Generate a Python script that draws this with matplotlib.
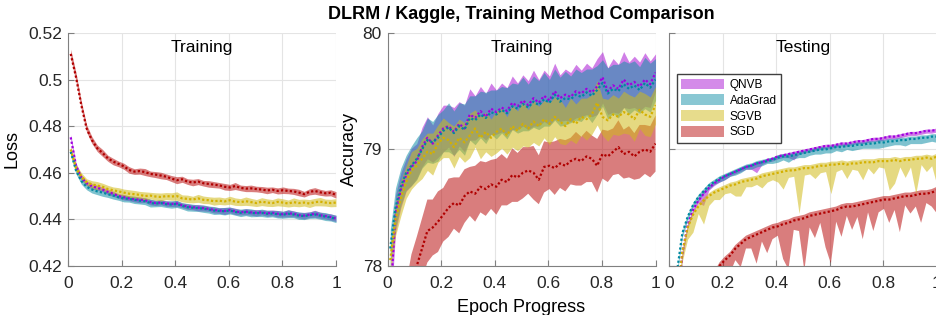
import numpy as np
import matplotlib
matplotlib.use('Agg')
import matplotlib.pyplot as plt
from matplotlib.patches import Patch

plt.rcParams['font.family'] = ['Liberation Sans', 'DejaVu Sans']

# epoch progress grid (51 samples)
x = np.linspace(0.01, 1.0, 51)

methods = ['QNVB', 'AdaGrad', 'SGVB', 'SGD']
fill_colors = ['#AA16D4', '#1491A8', '#D1BA1A', '#BA1212']
line_colors = ['#A000E0', '#0088A0', '#D4B000', '#B00000']

# ---- training loss (mean and half width of band) ----
loss_qnvb = [0.4752, 0.4630, 0.4580, 0.4555, 0.4542, 0.4536, 0.4528, 0.4518, 0.4510, 0.4500,
             0.4495, 0.4490, 0.4486, 0.4484, 0.4482, 0.4474, 0.4470, 0.4472, 0.4468, 0.4466,
             0.4468, 0.4460, 0.4455, 0.4452, 0.4450, 0.4448, 0.4445, 0.4440, 0.4438, 0.4436,
             0.4440, 0.4434, 0.4430, 0.4433, 0.4430, 0.4428, 0.4430, 0.4426, 0.4428, 0.4424,
             0.4422, 0.4426, 0.4424, 0.4418, 0.4416, 0.4420, 0.4424, 0.4418, 0.4414, 0.4410, 0.4404]
loss_adagrad = [0.4690, 0.4610, 0.4565, 0.4540, 0.4528, 0.4520, 0.4515, 0.4508, 0.4502, 0.4495,
                0.4490, 0.4488, 0.4484, 0.4480, 0.4478, 0.4470, 0.4468, 0.4470, 0.4465, 0.4464,
                0.4466, 0.4458, 0.4452, 0.4450, 0.4448, 0.4446, 0.4442, 0.4438, 0.4436, 0.4435,
                0.4438, 0.4432, 0.4428, 0.4431, 0.4428, 0.4426, 0.4428, 0.4424, 0.4425, 0.4422,
                0.4420, 0.4424, 0.4421, 0.4416, 0.4414, 0.4418, 0.4421, 0.4416, 0.4412, 0.4408, 0.4402]
loss_sgvb = [0.4700, 0.4620, 0.4585, 0.4560, 0.4550, 0.4545, 0.4540, 0.4530, 0.4525, 0.4520,
             0.4515, 0.4510, 0.4508, 0.4505, 0.4500, 0.4502, 0.4498, 0.4496, 0.4500, 0.4498,
             0.4500, 0.4490, 0.4488, 0.4485, 0.4490, 0.4484, 0.4482, 0.4478, 0.4480, 0.4477,
             0.4482, 0.4476, 0.4474, 0.4478, 0.4474, 0.4470, 0.4476, 0.4472, 0.4470, 0.4475,
             0.4472, 0.4468, 0.4474, 0.4470, 0.4472, 0.4468, 0.4474, 0.4476, 0.4472, 0.4470, 0.4472]
loss_sgd = [0.5110, 0.5010, 0.4890, 0.4790, 0.4740, 0.4705, 0.4685, 0.4662, 0.4648, 0.4638,
            0.4628, 0.4612, 0.4605, 0.4607, 0.4603, 0.4595, 0.4592, 0.4588, 0.4583, 0.4575,
            0.4568, 0.4572, 0.4562, 0.4558, 0.4562, 0.4555, 0.4552, 0.4549, 0.4546, 0.4540,
            0.4537, 0.4543, 0.4535, 0.4532, 0.4533, 0.4530, 0.4528, 0.4524, 0.4527, 0.4522,
            0.4525, 0.4522, 0.4520, 0.4515, 0.4508, 0.4518, 0.4522, 0.4516, 0.4512, 0.4514, 0.4505]

loss_qnvb_w = [0.0012, 0.0012, 0.0011, 0.0010, 0.0012, 0.0011, 0.0010, 0.0012, 0.0011, 0.0010,
               0.0012, 0.0010, 0.0011, 0.0013, 0.0010, 0.0012, 0.0011, 0.0010, 0.0012, 0.0011,
               0.0013, 0.0010, 0.0012, 0.0011, 0.0014, 0.0012, 0.0011, 0.0013, 0.0012, 0.0015,
               0.0012, 0.0014, 0.0011, 0.0013, 0.0012, 0.0014, 0.0011, 0.0013, 0.0012, 0.0014,
               0.0012, 0.0015, 0.0013, 0.0012, 0.0014, 0.0012, 0.0015, 0.0013, 0.0012, 0.0014, 0.0013]
loss_adagrad_w = [0.0014, 0.0015, 0.0014, 0.0013, 0.0015, 0.0014, 0.0016, 0.0014, 0.0015, 0.0013,
                  0.0015, 0.0014, 0.0016, 0.0014, 0.0015, 0.0017, 0.0014, 0.0015, 0.0014, 0.0016,
                  0.0015, 0.0014, 0.0016, 0.0015, 0.0014, 0.0016, 0.0015, 0.0017, 0.0014, 0.0016,
                  0.0015, 0.0014, 0.0016, 0.0015, 0.0017, 0.0014, 0.0016, 0.0015, 0.0014, 0.0016,
                  0.0015, 0.0017, 0.0014, 0.0016, 0.0015, 0.0014, 0.0016, 0.0015, 0.0017, 0.0015, 0.0016]
loss_sgvb_w = [0.0015, 0.0016, 0.0015, 0.0014, 0.0016, 0.0017, 0.0015, 0.0016, 0.0014, 0.0016,
               0.0015, 0.0017, 0.0016, 0.0015, 0.0018, 0.0014, 0.0016, 0.0017, 0.0015, 0.0016,
               0.0018, 0.0015, 0.0016, 0.0014, 0.0017, 0.0016, 0.0015, 0.0017, 0.0016, 0.0015,
               0.0017, 0.0016, 0.0015, 0.0018, 0.0016, 0.0015, 0.0017, 0.0016, 0.0015, 0.0017,
               0.0016, 0.0015, 0.0018, 0.0016, 0.0015, 0.0017, 0.0016, 0.0018, 0.0015, 0.0016, 0.0017]
loss_sgd_w = [0.0020, 0.0019, 0.0017, 0.0016, 0.0015, 0.0014, 0.0015, 0.0013, 0.0014, 0.0012,
              0.0013, 0.0014, 0.0012, 0.0013, 0.0015, 0.0012, 0.0013, 0.0014, 0.0012, 0.0013,
              0.0015, 0.0013, 0.0012, 0.0014, 0.0013, 0.0012, 0.0014, 0.0013, 0.0012, 0.0014,
              0.0013, 0.0015, 0.0012, 0.0013, 0.0014, 0.0012, 0.0013, 0.0014, 0.0012, 0.0013,
              0.0014, 0.0012, 0.0013, 0.0014, 0.0012, 0.0013, 0.0014, 0.0013, 0.0012, 0.0013, 0.0014]

# ---- training accuracy (mean and half width of band) ----
acc_tr_qnvb = [77.70, 78.45, 78.65, 78.78, 78.85, 78.90, 79.02, 79.10, 79.05, 79.12,
               79.18, 79.20, 79.15, 79.22, 79.18, 79.30, 79.27, 79.33, 79.28, 79.35,
               79.32, 79.36, 79.33, 79.40, 79.37, 79.42, 79.38, 79.44, 79.40, 79.46,
               79.42, 79.50, 79.44, 79.47, 79.45, 79.50, 79.48, 79.52, 79.49, 79.54,
               79.62, 79.50, 79.55, 79.52, 79.60, 79.55, 79.58, 79.54, 79.60, 79.56, 79.66]
acc_tr_adagrad = [78.15, 78.50, 78.68, 78.80, 78.86, 78.92, 79.00, 79.08, 79.06, 79.10,
                  79.16, 79.19, 79.14, 79.20, 79.17, 79.27, 79.25, 79.30, 79.27, 79.32,
                  79.30, 79.34, 79.31, 79.37, 79.35, 79.39, 79.36, 79.41, 79.38, 79.43,
                  79.40, 79.47, 79.41, 79.44, 79.43, 79.47, 79.45, 79.49, 79.46, 79.51,
                  79.57, 79.48, 79.52, 79.50, 79.56, 79.52, 79.55, 79.51, 79.57, 79.53, 79.60]
acc_tr_sgvb = [78.05, 78.40, 78.58, 78.72, 78.82, 78.86, 78.92, 78.98, 78.96, 79.05,
               79.10, 79.08, 79.02, 79.10, 79.06, 79.12, 79.18, 79.10, 79.15, 79.10,
               79.15, 79.18, 79.12, 79.20, 79.16, 79.22, 79.18, 79.24, 79.20, 79.26,
               79.22, 79.28, 79.24, 79.20, 79.26, 79.22, 79.28, 79.26, 79.30, 79.40,
               79.28, 79.25, 79.30, 79.28, 79.32, 79.30, 79.26, 79.34, 79.30, 79.28, 79.38]
acc_tr_sgd = [76.80, 77.10, 77.40, 77.60, 77.85, 78.00, 78.15, 78.30, 78.33, 78.38,
              78.44, 78.50, 78.54, 78.52, 78.60, 78.64, 78.62, 78.68, 78.66, 78.70,
              78.68, 78.74, 78.72, 78.78, 78.76, 78.80, 78.82, 78.80, 78.74, 78.85,
              78.86, 78.84, 78.88, 78.86, 78.90, 78.92, 78.90, 78.94, 78.92, 78.86,
              78.96, 78.94, 78.98, 79.02, 78.96, 78.98, 78.94, 78.98, 79.00, 78.98, 79.05]

acc_tr_qnvb_w = [0.15, 0.16, 0.15, 0.14, 0.16, 0.15, 0.17, 0.18, 0.16, 0.19,
                 0.20, 0.18, 0.21, 0.19, 0.20, 0.22, 0.19, 0.21, 0.20, 0.22,
                 0.19, 0.21, 0.20, 0.23, 0.20, 0.22, 0.21, 0.24, 0.20, 0.22,
                 0.21, 0.24, 0.20, 0.22, 0.21, 0.23, 0.20, 0.22, 0.21, 0.24,
                 0.22, 0.20, 0.23, 0.21, 0.24, 0.20, 0.22, 0.21, 0.23, 0.20, 0.16]
acc_tr_adagrad_w = [0.16, 0.17, 0.16, 0.15, 0.17, 0.18, 0.16, 0.19, 0.18, 0.20,
                    0.18, 0.21, 0.19, 0.20, 0.22, 0.19, 0.21, 0.20, 0.22, 0.19,
                    0.21, 0.20, 0.22, 0.20, 0.21, 0.23, 0.20, 0.22, 0.21, 0.23,
                    0.20, 0.22, 0.21, 0.23, 0.20, 0.22, 0.21, 0.20, 0.23, 0.21,
                    0.20, 0.22, 0.21, 0.23, 0.20, 0.22, 0.21, 0.20, 0.22, 0.21, 0.18]
acc_tr_sgvb_w = [0.12, 0.14, 0.15, 0.14, 0.16, 0.15, 0.17, 0.16, 0.18, 0.16,
                 0.17, 0.15, 0.18, 0.16, 0.17, 0.19, 0.16, 0.18, 0.17, 0.16,
                 0.18, 0.17, 0.16, 0.18, 0.17, 0.19, 0.16, 0.18, 0.17, 0.16,
                 0.18, 0.17, 0.19, 0.16, 0.18, 0.17, 0.16, 0.18, 0.17, 0.19,
                 0.16, 0.18, 0.17, 0.16, 0.18, 0.17, 0.19, 0.16, 0.18, 0.17, 0.16]
acc_tr_sgd_w = [0.25, 0.25, 0.25, 0.25, 0.25, 0.25, 0.26, 0.27, 0.24, 0.26,
                0.23, 0.25, 0.22, 0.24, 0.23, 0.21, 0.24, 0.22, 0.23, 0.21,
                0.24, 0.22, 0.20, 0.23, 0.21, 0.22, 0.20, 0.23, 0.21, 0.22,
                0.20, 0.23, 0.21, 0.22, 0.20, 0.23, 0.21, 0.22, 0.20, 0.23,
                0.21, 0.22, 0.20, 0.23, 0.21, 0.22, 0.20, 0.23, 0.21, 0.22, 0.24]

# ---- testing accuracy (mean, lower offset, constant upper offset) ----
acc_te_qnvb = [77.00, 77.60, 78.11, 78.35, 78.48, 78.56, 78.62, 78.67, 78.71, 78.74,
               78.77, 78.79, 78.81, 78.83, 78.85, 78.86, 78.88, 78.89, 78.91, 78.92,
               78.94, 78.95, 78.96, 78.97, 78.98, 78.99, 79.00, 79.01, 79.02, 79.03,
               79.03, 79.04, 79.05, 79.05, 79.06, 79.07, 79.07, 79.08, 79.09, 79.09,
               79.10, 79.11, 79.11, 79.12, 79.13, 79.14, 79.14, 79.15, 79.16, 79.16, 79.17]
acc_te_adagrad = [77.20, 77.95, 78.28, 78.42, 78.52, 78.59, 78.64, 78.69, 78.72, 78.75,
                  78.77, 78.79, 78.81, 78.83, 78.85, 78.86, 78.88, 78.89, 78.90, 78.91,
                  78.93, 78.94, 78.94, 78.95, 78.96, 78.97, 78.98, 78.99, 79.00, 79.00,
                  79.01, 79.02, 79.02, 79.03, 79.03, 79.04, 79.04, 79.05, 79.05, 79.06,
                  79.06, 79.07, 79.07, 79.08, 79.08, 79.09, 79.09, 79.10, 79.10, 79.11, 79.11]
acc_te_sgvb = [77.00, 77.70, 78.12, 78.33, 78.44, 78.51, 78.56, 78.60, 78.63, 78.65,
               78.67, 78.69, 78.70, 78.72, 78.73, 78.74, 78.75, 78.77, 78.78, 78.79,
               78.80, 78.81, 78.82, 78.82, 78.83, 78.84, 78.84, 78.85, 78.86, 78.86,
               78.87, 78.87, 78.88, 78.87, 78.88, 78.88, 78.89, 78.89, 78.89, 78.90,
               78.90, 78.90, 78.91, 78.90, 78.91, 78.91, 78.92, 78.92, 78.93, 78.92, 78.94]
acc_te_sgd = [76.00, 76.30, 76.60, 76.90, 77.20, 77.45, 77.65, 77.80, 77.92, 78.00,
              78.05, 78.09, 78.15, 78.19, 78.23, 78.25, 78.27, 78.29, 78.31, 78.33,
              78.34, 78.36, 78.37, 78.39, 78.40, 78.41, 78.43, 78.44, 78.45, 78.46,
              78.47, 78.48, 78.50, 78.51, 78.51, 78.52, 78.53, 78.54, 78.55, 78.56,
              78.57, 78.57, 78.58, 78.59, 78.60, 78.60, 78.61, 78.62, 78.62, 78.63, 78.65]

acc_te_qnvb_lo = [0.04, 0.04, 0.04, 0.03, 0.03, 0.02, 0.10, 0.02, 0.02, 0.02,
                  0.03, 0.02, 0.02, 0.02, 0.02, 0.03, 0.08, 0.02, 0.02, 0.02,
                  0.02, 0.02, 0.03, 0.06, 0.02, 0.02, 0.02, 0.02, 0.02, 0.02,
                  0.02, 0.02, 0.02, 0.02, 0.02, 0.02, 0.02, 0.02, 0.02, 0.02,
                  0.02, 0.02, 0.02, 0.02, 0.02, 0.02, 0.02, 0.02, 0.02, 0.02, 0.02]
acc_te_adagrad_lo = [0.03, 0.03, 0.03, 0.03, 0.02, 0.03, 0.02, 0.03, 0.02, 0.03,
                     0.03, 0.02, 0.03, 0.03, 0.02, 0.03, 0.03, 0.03, 0.02, 0.03,
                     0.04, 0.03, 0.05, 0.03, 0.03, 0.04, 0.03, 0.03, 0.04, 0.03,
                     0.04, 0.03, 0.04, 0.03, 0.04, 0.04, 0.03, 0.04, 0.04, 0.05,
                     0.04, 0.04, 0.03, 0.04, 0.05, 0.04, 0.04, 0.05, 0.04, 0.04, 0.05]
acc_te_sgvb_lo = [0.10, 0.10, 0.08, 0.10, 0.15, 0.06, 0.20, 0.08, 0.06, 0.08,
                  0.05, 0.06, 0.10, 0.12, 0.05, 0.06, 0.05, 0.10, 0.06, 0.05,
                  0.08, 0.15, 0.06, 0.05, 0.38, 0.06, 0.05, 0.10, 0.06, 0.05,
                  0.25, 0.06, 0.05, 0.12, 0.05, 0.06, 0.15, 0.05, 0.10, 0.05,
                  0.06, 0.25, 0.20, 0.05, 0.15, 0.06, 0.30, 0.05, 0.12, 0.06, 0.25]
acc_te_sgd_lo = [0.10, 0.10, 0.10, 0.10, 0.10, 0.10, 0.10, 0.10, 0.10, 0.12,
                 0.08, 0.15, 0.10, 0.20, 0.08, 0.10, 0.25, 0.08, 0.20, 0.10,
                 0.08, 0.30, 0.40, 0.08, 0.10, 0.45, 0.10, 0.20, 0.08, 0.30,
                 0.45, 0.10, 0.25, 0.08, 0.20, 0.10, 0.30, 0.08, 0.25, 0.10,
                 0.08, 0.20, 0.10, 0.30, 0.08, 0.15, 0.10, 0.25, 0.08, 0.12, 0.20]
acc_te_hi = [0.015, 0.025, 0.03, 0.03]

# drawing order: SGD first, then QNVB, AdaGrad, SGVB (fill then line for each)
order = [3, 0, 1, 2]


def draw_series(ax, k, mean, lo, hi):
    mean = np.asarray(mean)
    ax.fill_between(x, mean - np.asarray(lo), mean + np.asarray(hi),
                    color=fill_colors[k], alpha=0.55, lw=0)
    ax.plot(x, mean, color=line_colors[k], lw=1.6, ls=(0, (1, 1)))


def style_axes(ax, ylim, yticks, ylabels):
    ax.set_xlim(0, 1)
    ax.set_ylim(*ylim)
    ax.set_xticks([0, 0.2, 0.4, 0.6, 0.8, 1])
    ax.set_xticklabels(['0', '0.2', '0.4', '0.6', '0.8', '1'])
    ax.set_yticks(yticks)
    ax.set_yticklabels(ylabels)
    ax.grid(True, color='#E4E4E4', lw=0.8)
    ax.set_axisbelow(True)
    for s in ['top', 'right']:
        ax.spines[s].set_visible(False)
    for s in ['left', 'bottom']:
        ax.spines[s].set_color('#808080')
    ax.tick_params(direction='in', length=4, color='#808080', labelsize=12.5,
                   labelcolor='#262626')
    ax.tick_params(axis='x', pad=7)
    ax.tick_params(axis='y', pad=4)


fig = plt.figure(figsize=(9.37, 3.15), dpi=100)
ax1 = fig.add_axes([0.0726, 0.1556, 0.286, 0.74])
ax2 = fig.add_axes([0.4136, 0.1556, 0.286, 0.74])
ax3 = fig.add_axes([0.714, 0.1556, 0.286, 0.74])

# training loss
loss_means = [loss_qnvb, loss_adagrad, loss_sgvb, loss_sgd]
loss_ws = [loss_qnvb_w, loss_adagrad_w, loss_sgvb_w, loss_sgd_w]
for k in order:
    draw_series(ax1, k, loss_means[k], loss_ws[k], loss_ws[k])
style_axes(ax1, (0.42, 0.52), [0.42, 0.44, 0.46, 0.48, 0.50, 0.52],
           ['0.42', '0.44', '0.46', '0.48', '0.5', '0.52'])
ax1.set_ylabel('Loss', fontsize=13, labelpad=6)
ax1.text(0.5, 0.97, 'Training', transform=ax1.transAxes, ha='center', va='top', fontsize=12.5)

# training accuracy
tr_means = [acc_tr_qnvb, acc_tr_adagrad, acc_tr_sgvb, acc_tr_sgd]
tr_ws = [acc_tr_qnvb_w, acc_tr_adagrad_w, acc_tr_sgvb_w, acc_tr_sgd_w]
for k in order:
    draw_series(ax2, k, tr_means[k], tr_ws[k], tr_ws[k])
style_axes(ax2, (78, 80), [78, 79, 80], ['78', '79', '80'])
ax2.set_ylabel('Accuracy', fontsize=13, labelpad=3)
ax2.set_xlabel('Epoch Progress', fontsize=13, labelpad=6)
ax2.text(0.5, 0.97, 'Training', transform=ax2.transAxes, ha='center', va='top', fontsize=12.5)

# testing accuracy
te_means = [acc_te_qnvb, acc_te_adagrad, acc_te_sgvb, acc_te_sgd]
te_los = [acc_te_qnvb_lo, acc_te_adagrad_lo, acc_te_sgvb_lo, acc_te_sgd_lo]
for k in order:
    draw_series(ax3, k, te_means[k], te_los[k], acc_te_hi[k])
style_axes(ax3, (78, 80), [78, 79, 80], ['78', '79', '80'])
ax3.tick_params(labelleft=False)
ax3.text(0.5, 0.97, 'Testing', transform=ax3.transAxes, ha='center', va='top', fontsize=12.5)

handles = [Patch(facecolor=c, alpha=0.5, edgecolor='none') for c in fill_colors]
leg = ax3.legend(handles, methods, loc='upper left', bbox_to_anchor=(0.03, 0.822),
                 fontsize=8.5, frameon=True, fancybox=False, edgecolor='#404040',
                 framealpha=1, handlelength=3.6, handleheight=1.0, borderpad=0.35,
                 labelspacing=0.3, handletextpad=0.5, borderaxespad=0)
leg.get_frame().set_linewidth(1.0)

fig.text(0.556, 0.955, 'DLRM / Kaggle, Training Method Comparison', ha='center',
         va='center', fontsize=13, fontweight='bold')

fig.savefig('out.png', dpi=100)
